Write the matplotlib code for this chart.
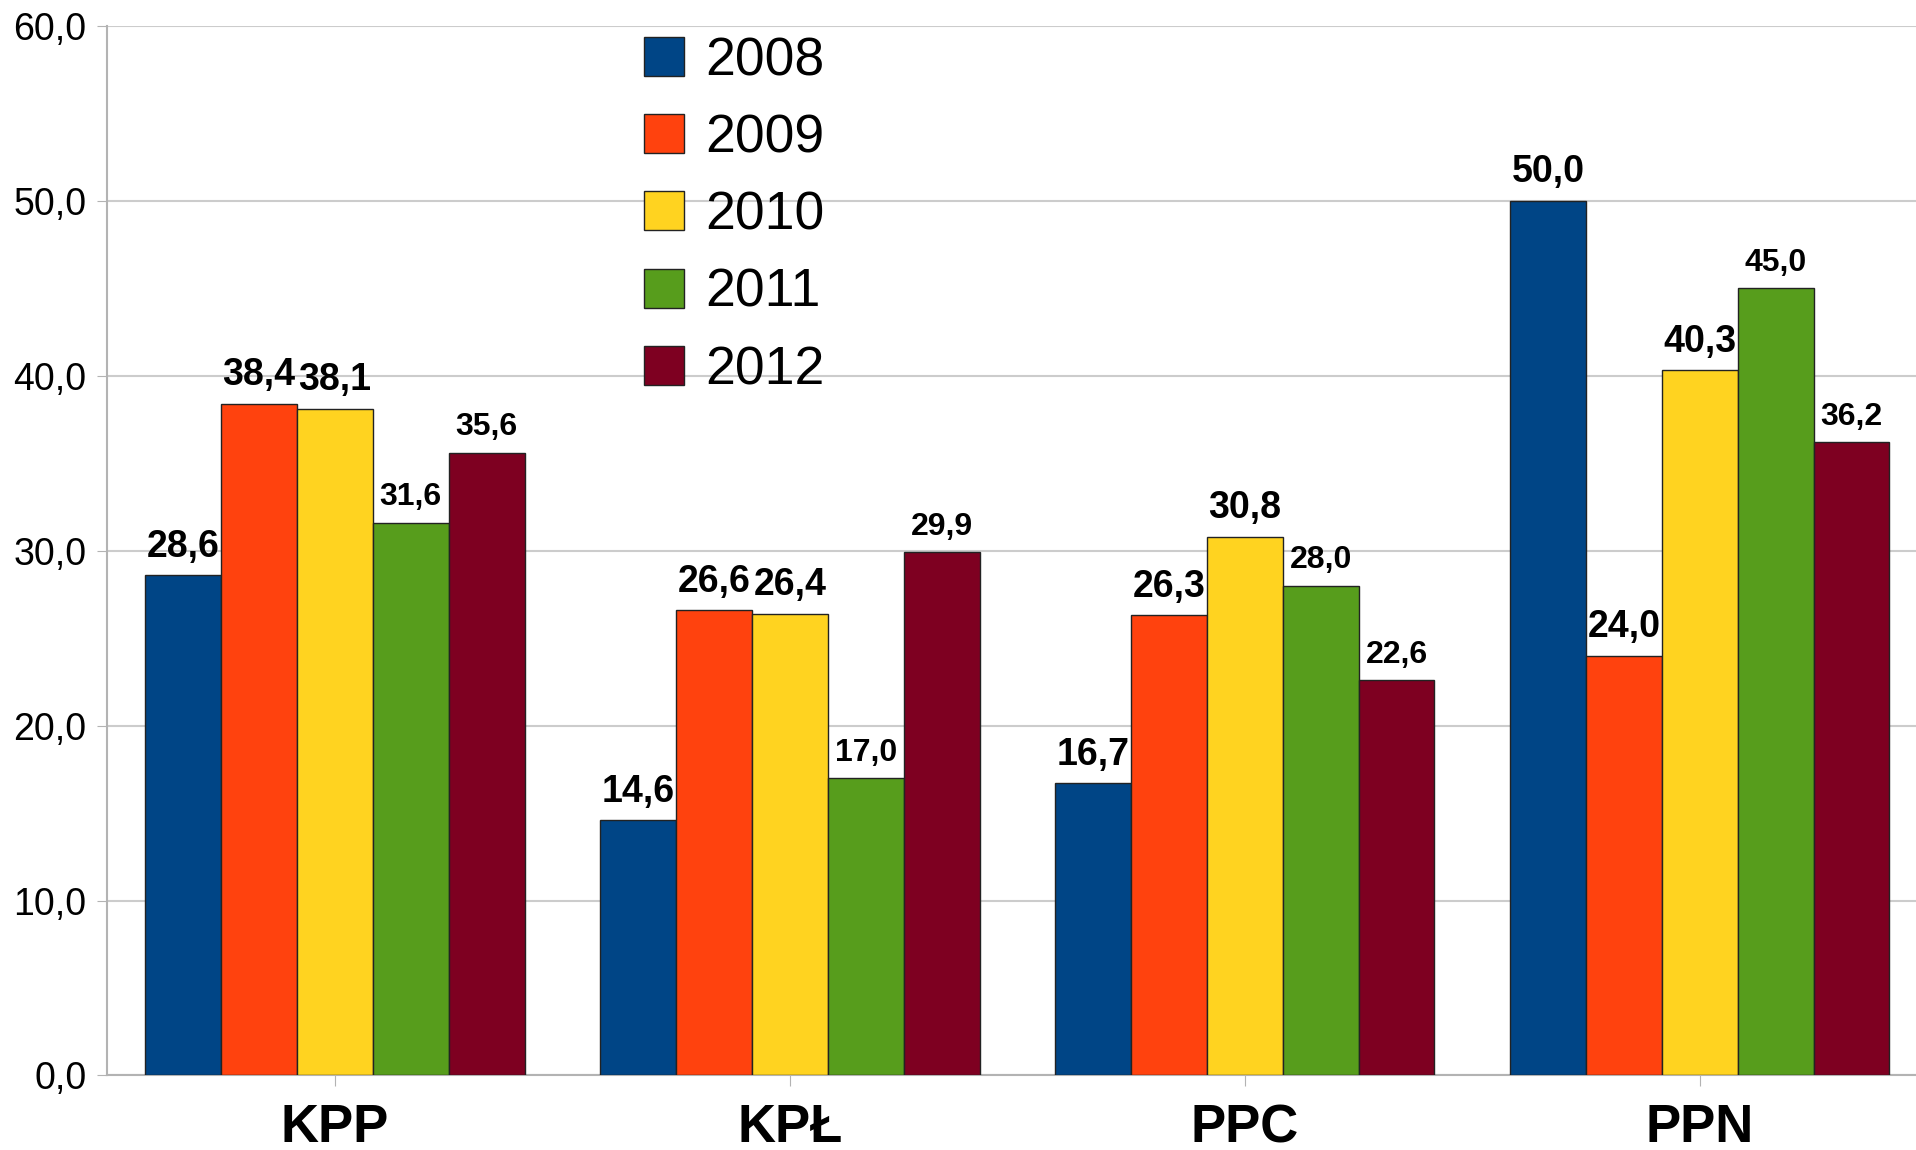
import numpy as np
import matplotlib.pyplot as plt

plt.rcParams['font.family'] = ['Liberation Sans', 'DejaVu Sans']

# data
categories = ['KPP', 'KPŁ', 'PPC', 'PPN']
years = ['2008', '2009', '2010', '2011', '2012']
v2008 = [28.6, 14.6, 16.7, 50.0]
v2009 = [38.4, 26.6, 26.3, 24.0]
v2010 = [38.1, 26.4, 30.8, 40.3]
v2011 = [31.6, 17.0, 28.0, 45.0]
v2012 = [35.6, 29.9, 22.6, 36.2]
series = [v2008, v2009, v2010, v2011, v2012]
colors = ['#004586', '#ff420e', '#ffd320', '#579d1c', '#7e0021']
label_sizes = [27, 27, 27, 23, 23]

fig = plt.figure(figsize=(19.16, 11.5), dpi=100)
ax = fig.add_axes([0.0561, 0.0648, 0.9439, 0.9129])

x = np.arange(len(categories))
width = 1 / 6
for i, vals in enumerate(series):
    pos = x + (i - 2) * width
    bars = ax.bar(pos, vals, width, color=colors[i], edgecolor='#222222',
                  linewidth=1.0, label=years[i], zorder=3)
    for b, v in zip(bars, vals):
        ax.text(b.get_x() + b.get_width() / 2, v + 0.6,
                f'{v:.1f}'.replace('.', ','), ha='center', va='bottom',
                fontsize=label_sizes[i], fontweight='bold', zorder=4)

ax.set_ylim(0, 60)
ax.set_xlim(-0.5, 3.475)
yt = np.arange(0, 61, 10)
ax.set_yticks(yt)
ax.set_yticklabels([f'{t:.1f}'.replace('.', ',') for t in yt], fontsize=27)
ax.set_xticks(x)
ax.set_xticklabels(categories, fontsize=38, fontweight='bold')
ax.tick_params(axis='y', length=7, color='#b3b3b3', pad=8)
ax.tick_params(axis='x', length=8, color='#b3b3b3', pad=12)
ax.grid(axis='y', color='#cccccc', linewidth=1.5, zorder=0)
for s in ['top', 'right']:
    ax.spines[s].set_visible(False)
ax.spines['left'].set_color('#b3b3b3')
ax.spines['left'].set_linewidth(1.5)
ax.spines['bottom'].set_color('#b3b3b3')
ax.spines['bottom'].set_linewidth(1.5)

leg = ax.legend(loc='upper left', bbox_to_anchor=(644 / 1916, 1 - 36 / 1150),
                bbox_transform=fig.transFigure, frameon=False, fontsize=38.5,
                handlelength=0.75, handleheight=0.75, handletextpad=0.4,
                labelspacing=0.51, borderpad=0, borderaxespad=0)

fig.savefig('out.png', dpi=100)
